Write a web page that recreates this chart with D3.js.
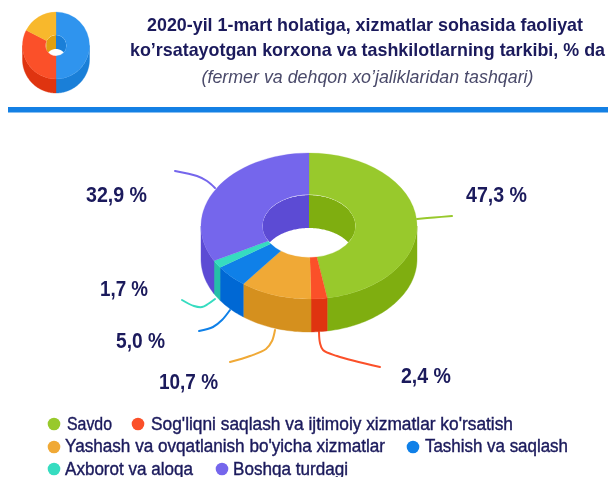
<!DOCTYPE html>
<html><head><meta charset="utf-8">
<script src="https://cdn.jsdelivr.net/npm/d3@7/dist/d3.min.js"></script>
<style>
html,body{margin:0;padding:0;background:#fff;overflow:hidden}
svg{display:block;filter:blur(0.4px)}
text{font-family:"Liberation Sans",Arial,sans-serif;fill:#1b1a5c}
</style></head><body>
<svg id="c" width="608" height="477"></svg>
<script>
const categories = ["Savdo","Sog'liqni saqlash va ijtimoiy xizmatlar ko'rsatish","Yashash va ovqatlanish bo'yicha xizmatlar","Tashish va saqlash","Axborot va aloqa","Boshqa turdagi"];
const values = [47.3,2.4,10.7,5.0,1.7,32.9];
const valueLabels = ["47,3 %","2,4 %","10,7 %","5,0 %","1,7 %","32,9 %"];
const topColors = ["#98c92c","#fb5029","#f0a936","#0f80e8","#36dcc0","#7566ec"];
const sideColors = ["#7fae10","#df3410","#d5901e","#0068d4","#25c0a8","#5c4bd4"];
const iconValues = [50,32.5,17.5];
const iconTop = ["#2f94ee","#fb5029","#f8b82c"];
const iconSide = ["#1a7fd8","#df3410","#e0a010"];
const iconInner = ["#1a7fd8","#e0a010","#e0a010"];
const titleLines = ["2020-yil 1-mart holatiga, xizmatlar sohasida faoliyat","ko’rsatayotgan korxona va tashkilotlarning tarkibi, % da"];
const subtitle = "(fermer va dehqon xo’jaliklaridan tashqari)";

const svg = d3.select("#c");
let uid = 0;
function donut(g, vals, tops, sides, inner, o){
  const pie = d3.pie().sort(null).value(d=>d)(vals);
  const TAU = Math.PI*2, id = "hole"+(uid++);
  const pt = (a,rx,ry,dy)=>[o.cx+rx*Math.sin(a), o.cy-ry*Math.cos(a)+dy];
  const samples = (a0,a1)=>{const n=Math.max(2,Math.ceil((a1-a0)*40));return d3.range(n+1).map(i=>a0+(a1-a0)*i/n);};
  const line = d3.line();
  const band = (a0,a1,rx,ry)=>{
    const s = samples(a0,a1);
    return line(s.map(a=>pt(a,rx,ry,0)).concat(s.slice().reverse().map(a=>pt(a,rx,ry,o.depth))))+"Z";
  };
  pie.forEach((d,i)=>{
    const a0=Math.max(d.startAngle,Math.PI/2), a1=Math.min(d.endAngle,Math.PI*1.5);
    if(a1>a0) g.append("path").attr("d",band(a0,a1,o.rx,o.ry)).attr("fill",sides[i]).attr("stroke",sides[i]).attr("stroke-width",0.4);
  });
  const hole = d3.arc().innerRadius(0).outerRadius(o.irx).startAngle(0).endAngle(TAU)();
  const tr = `translate(${o.cx},${o.cy}) scale(1,${o.iry/o.irx})`;
  g.append("clipPath").attr("id",id).append("path").attr("d",hole).attr("transform",tr);
  const wall = g.append("g").attr("clip-path",`url(#${id})`);
  wall.append("path").attr("d",hole).attr("transform",tr).attr("fill","#fff");
  pie.forEach((d,i)=>{
    [[d.startAngle,Math.min(d.endAngle,Math.PI/2)],[Math.max(d.startAngle,Math.PI*1.5),d.endAngle]].forEach(([a0,a1])=>{
      if(a1>a0) wall.append("path").attr("d",band(a0,a1,o.irx,o.iry)).attr("fill",inner[i]);
    });
  });
  const arc = d3.arc().innerRadius(o.irx).outerRadius(o.rx);
  const k = o.ry/o.rx;
  g.append("g").attr("transform",`translate(${o.cx},${o.cy}) scale(1,${k})`)
    .selectAll("path").data(pie).join("path")
    .attr("d",d=>arc({startAngle:d.startAngle,endAngle:d.endAngle}))
    .attr("fill",(d,i)=>tops[i]).attr("stroke",(d,i)=>tops[i]).attr("stroke-width",0.3);
}

function fitText(sel, x, y, w, size){
  return sel.append("text").attr("x",x).attr("y",y).attr("font-size",size)
    .attr("textLength",w).attr("lengthAdjust","spacingAndGlyphs");
}

// header
donut(svg.append("g"), iconValues, iconTop, iconSide, iconInner, {cx:56,cy:45.5,rx:33.5,ry:33.5,irx:10.5,iry:10.5,depth:14});
fitText(svg,147,30.5,436,18.5).attr("font-weight",700).text(titleLines[0]);
fitText(svg,130,56,475,18.5).attr("font-weight",700).text(titleLines[1]);
fitText(svg,201.5,83,332,17.5).attr("font-style","italic").style("fill","#4a4a6a").text(subtitle);
svg.append("rect").attr("x",8).attr("y",107).attr("width",600).attr("height",5.5).attr("fill","#1480e4");

// leader lines
const leaders = [
 [[417,219],[434,217.5],[452,216]],
 [[319,332],[320,343],[323,350],[337,356],[380,367]],
 [[275,330],[272,341],[266,349],[250,356],[230,362]],
 [[230,310],[222,320],[213,327],[199,331]],
 [[215,299],[208,304],[202,307],[194,306],[182,300]],
 [[215,188],[207,181],[197,176],[175,171]]
];
const lg = d3.line().curve(d3.curveCatmullRom.alpha(0.5));
svg.append("g").selectAll("path").data(leaders).join("path")
  .attr("d",lg).attr("fill","none").attr("stroke-width",2).attr("stroke-linecap","round")
  .attr("stroke",(d,i)=>topColors[i]);

// main donut
donut(svg.append("g"), values, topColors, sideColors, sideColors, {cx:309,cy:226,rx:108,ry:73,irx:46.5,iry:31,depth:33});

// value labels: [left, baseline, width]
const labelPos = [[466,201.7,61],[401,383,50],[159,389,59],[116,348,49],[100,296,48],[86,201.7,61]];
svg.append("g").selectAll("text").data(valueLabels).join("text")
  .attr("x",(d,i)=>labelPos[i][0]).attr("y",(d,i)=>labelPos[i][1])
  .attr("textLength",(d,i)=>labelPos[i][2]).attr("lengthAdjust","spacingAndGlyphs")
  .attr("font-size",22).attr("font-weight",700).text(d=>d);

// legend: [dotX, dotY, textX, baseline, textWidth]
const legendPos = [[54,424,67,430,45],[138,424,151,430,362],[54,447,65,452,320],[413,447,425,452,143],[54,469,65,475,128],[222,469,233,475,115]];
const lgd = svg.append("g").selectAll("g").data(categories).join("g");
lgd.append("circle").attr("cx",(d,i)=>legendPos[i][0]).attr("cy",(d,i)=>legendPos[i][1]).attr("r",6.3).attr("fill",(d,i)=>topColors[i]);
lgd.append("text").attr("x",(d,i)=>legendPos[i][2]).attr("y",(d,i)=>legendPos[i][3])
  .attr("textLength",(d,i)=>legendPos[i][4]).attr("lengthAdjust","spacingAndGlyphs")
  .attr("font-size",18).style("stroke","#1b1a5c").style("stroke-width",0.4).text(d=>d);
</script></body></html>
